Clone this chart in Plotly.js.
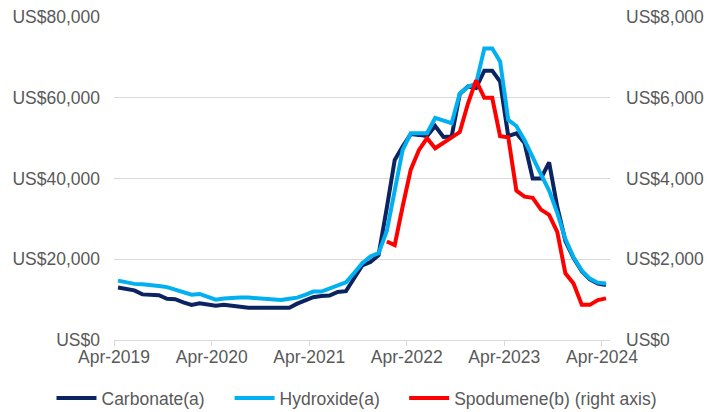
<!DOCTYPE html>
<html>
<head>
<meta charset="utf-8">
<script src="https://cdn.plot.ly/plotly-3.0.1.min.js"></script>
<style>
html,body{margin:0;padding:0;background:#fff;}
#chart{width:707px;height:412px;}
</style>
</head>
<body>
<div id="chart"></div>
<script>
// Monthly observations, Apr-2019 .. Apr-2024
const months = [
 "2019-04","2019-05","2019-06","2019-07","2019-08","2019-09","2019-10","2019-11","2019-12",
 "2020-01","2020-02","2020-03","2020-04","2020-05","2020-06","2020-07","2020-08","2020-09","2020-10","2020-11","2020-12",
 "2021-01","2021-02","2021-03","2021-04","2021-05","2021-06","2021-07","2021-08","2021-09","2021-10","2021-11","2021-12",
 "2022-01","2022-02","2022-03","2022-04","2022-05","2022-06","2022-07","2022-08","2022-09","2022-10","2022-11","2022-12",
 "2023-01","2023-02","2023-03","2023-04","2023-05","2023-06","2023-07","2023-08","2023-09","2023-10","2023-11","2023-12",
 "2024-01","2024-02","2024-03","2024-04"
];

// Lithium carbonate price (US$/t, left axis)
const carbonate = [
 13000,12700,12300,11300,11200,11100,10200,10100,9300,
 8700,9100,8900,8500,8700,8500,8100,8000,8000,8000,7800,7800,
 8000,9000,9800,10600,10900,11000,11900,12100,15300,18500,19300,21000,
 32800,44600,47900,51000,50800,50500,53000,50300,50400,60900,62800,62400,
 66700,66700,64000,50500,51200,48800,40000,40000,44000,33000,24500,20300,
 17000,15000,14000,13600
];

// Lithium hydroxide price (US$/t, left axis)
const hydroxide = [
 14700,14200,13900,13800,13700,13400,13100,12400,11900,
 11200,11400,10800,10000,10300,10500,10500,10500,10300,10200,10100,9900,
 10200,10500,11200,12000,12000,12700,13500,14300,16600,19000,20700,21500,
 27000,37000,47000,51200,51200,51200,55000,54300,53700,61000,62700,63500,
 72200,72200,69000,54500,53000,49500,45000,41000,37000,31500,25000,20500,
 17200,15200,14200,14000
];

// Spodumene price (US$/t, right axis)
const spodumene = [
 null,null,null,null,null,null,null,null,null,
 null,null,null,null,null,null,null,null,null,null,null,null,
 null,null,null,null,null,null,null,null,null,null,null,null,
 2440,2350,3300,4220,4700,5000,4750,4880,5000,5150,5850,6430,
 6000,6000,5050,5020,3700,3550,3520,3230,3100,2680,1650,1400,
 870,870,990,1030
];

const tickDates = ["2019-04-01","2020-04-01","2021-04-01","2022-04-01","2023-04-01","2024-04-01"];
const tickLabels = ["Apr-2019","Apr-2020","Apr-2021","Apr-2022","Apr-2023","Apr-2024"];
const seriesNames = ["Carbonate(a)","Hydroxide(a)","Spodumene(b) (right axis)"];

const FONT = "Liberation Sans, Arial, sans-serif";
const TXT = "#595959";
const GRID = "#d9d9d9";

const common = {
  type: "scatter", mode: "lines", x: months,
  xperiod: "M1", xperiodalignment: "middle",
  hoverinfo: "skip"
};

const traces = [
  Object.assign({}, common, {name: seriesNames[0], y: carbonate, legend: "legend", line: {color: "#0b2461", width: 4}}),
  Object.assign({}, common, {name: seriesNames[1], y: hydroxide, legend: "legend2", line: {color: "#00b0f0", width: 4}}),
  Object.assign({}, common, {name: seriesNames[2], y: spodumene, yaxis: "y2", legend: "legend3", line: {color: "#ff0000", width: 4}})
];

function legendAt(xp) {
  return {
    orientation: "h", x: xp, xanchor: "left", y: -0.18, yanchor: "middle",
    font: {family: FONT, size: 17.5, color: TXT},
    itemwidth: 40, bgcolor: "rgba(0,0,0,0)", borderwidth: 0
  };
}

const layout = {
  width: 707, height: 412,
  margin: {l: 114, r: 97, t: 17, b: 72, autoexpand: false},
  paper_bgcolor: "#fff", plot_bgcolor: "#fff",
  font: {family: FONT, size: 17.5, color: TXT},
  showlegend: true,
  legend: legendAt(-0.126),
  legend2: legendAt(0.233),
  legend3: legendAt(0.585),
  xaxis: {
    type: "date", range: ["2019-04-01", "2024-05-01"],
    tickvals: tickDates, ticktext: tickLabels,
    showgrid: false, zeroline: false,
    showline: true, linecolor: GRID, linewidth: 1,
    ticks: "outside", ticklen: 5, tickcolor: GRID, tickwidth: 1,
    ticklabelstandoff: -4,
    tickfont: {family: FONT, size: 17.5, color: TXT}
  },
  yaxis: {
    range: [0, 80000], dtick: 20000, tick0: 0,
    tickprefix: "US$", tickformat: ",d",
    showgrid: true, gridcolor: GRID, gridwidth: 1,
    zeroline: false, showline: false, ticks: "",
    ticklabelstandoff: 13,
    tickfont: {family: FONT, size: 17.5, color: TXT}
  },
  yaxis2: {
    overlaying: "y", side: "right",
    range: [0, 8000], dtick: 2000, tick0: 0,
    tickprefix: "US$", tickformat: ",d",
    showgrid: false, zeroline: false, showline: false, ticks: "",
    ticklabelstandoff: 15,
    tickfont: {family: FONT, size: 17.5, color: TXT}
  }
};

Plotly.newPlot("chart", traces, layout, {displayModeBar: false, staticPlot: true});
</script>
</body>
</html>
